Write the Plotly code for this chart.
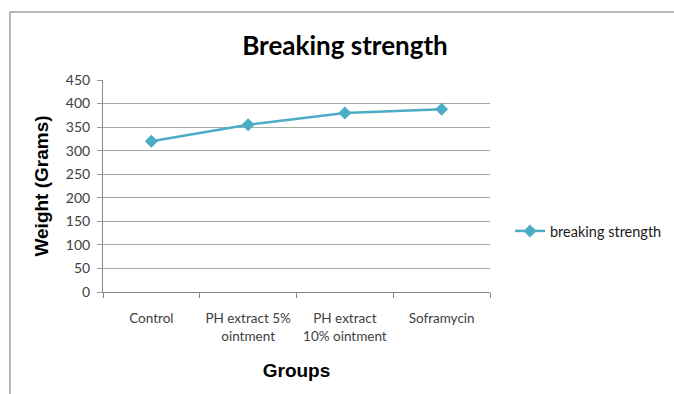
import plotly.graph_objects as go

categories = ["Control", "PH extract 5%<br>ointment", "PH extract<br>10% ointment", "Soframycin"]
values = [320, 355, 380, 388]
series_name = "breaking strength"
y_ticks = [0, 50, 100, 150, 200, 250, 300, 350, 400, 450]

W, H = 674, 394
L, R, T, B = 103, 490, 80, 292  # plot area in px

def px_x(x):
    return (x - L) / (R - L)

def px_y(y):
    return (B - y) / (B - T)

fig = go.Figure()
fig.add_trace(go.Scatter(
    x=categories, y=values, mode="lines+markers", name=series_name,
    line=dict(color="#4bacc6", width=2.5),
    marker=dict(symbol="diamond", size=10, color="#4bacc6"),
))

fig.update_layout(
    width=W, height=H,
    margin=dict(l=L, r=W - R, t=T, b=H - B, autoexpand=False),
    paper_bgcolor="white", plot_bgcolor="white",
    font=dict(family="Lato, Open Sans, sans-serif", size=14, color="#404040"),
    title=dict(text="<b>Breaking strength</b>", x=345 / W,
               xanchor="center", y=1 - 46 / H, yanchor="middle",
               font=dict(family="Lato, sans-serif", size=26, color="#000000")),
    showlegend=True,
    legend=dict(x=px_x(510), y=px_y(231), xanchor="left", yanchor="middle",
                font=dict(family="Lato, sans-serif", size=14.5, color="#1a1a1a"),
                bgcolor="rgba(0,0,0,0)", itemwidth=30),
    xaxis=dict(
        type="category", range=[-0.5, 3.5], tickson="boundaries", ticks="outside", ticklen=5,
        tickcolor="#888888", showline=True, linecolor="#888888", linewidth=1,
        showgrid=False, tickfont=dict(size=13.5, color="#404040"), ticklabelstandoff=14,
        tickangle=0, automargin=False,
        title=dict(text="<b>Groups</b>", standoff=20,
                   font=dict(family="Liberation Sans, Arial, sans-serif", size=19, color="#000000")),
    ),
    yaxis=dict(
        range=[0, 450], tickvals=y_ticks, ticks="outside", ticklen=5,
        tickcolor="#999999", showgrid=True, gridcolor="#a8a8a8", gridwidth=1,
        showline=True, linecolor="#888888", linewidth=1, zeroline=False,
        tickfont=dict(size=14, color="#404040"), ticklabelstandoff=4, automargin=False,
        title=dict(text="<b>Weight (Grams)</b>", standoff=12,
                   font=dict(family="Liberation Sans, Arial, sans-serif", size=19, color="#000000")),
    ),
    shapes=[dict(type="rect", xref="paper", yref="paper",
                 x0=px_x(10), x1=px_x(700), y0=px_y(420), y1=px_y(12),
                 line=dict(color="#a0a0a0", width=1.5), fillcolor="rgba(0,0,0,0)", layer="below")],
)

fig.write_html("out.html")
